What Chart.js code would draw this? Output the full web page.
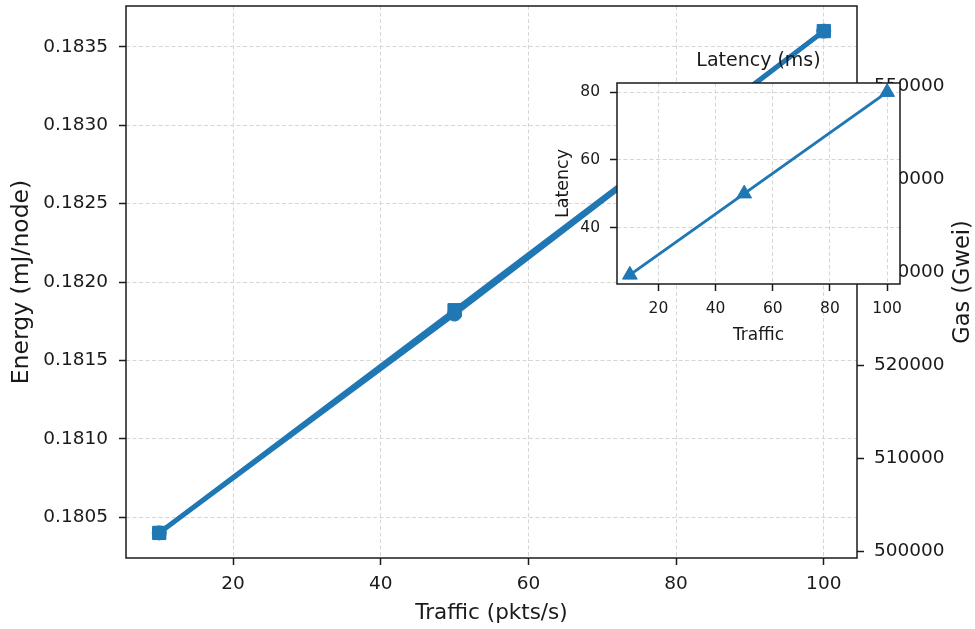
<!DOCTYPE html>
<html>
<head>
<meta charset="utf-8">
<script src="https://cdn.jsdelivr.net/npm/chart.js@4.4.1/dist/chart.umd.min.js"></script>
<style>
  html, body { margin: 0; padding: 0; background: #fff; overflow: hidden; }
  #wrap { position: relative; width: 975px; height: 629px; }
  #mainChart { position: absolute; left: 0; top: 0; }
  #insetChart { position: absolute; left: 540px; top: 40px; }
</style>
</head>
<body>
<div id="wrap">
  <canvas id="mainChart" width="975" height="629"></canvas>
  <canvas id="insetChart" width="380" height="310"></canvas>
</div>
<script>
// data
const traffic = [10, 50, 100];
const energy = [0.1804, 0.18182, 0.1836];
const gas = [502000, 525500, 555900];
const latency = [26, 50, 80];

// tick labels
const trafficTicks = [20, 40, 60, 80, 100];
const energyTicks = [0.1805, 0.1810, 0.1815, 0.1820, 0.1825, 0.1830, 0.1835];
const gasTicks = [500000, 510000, 520000, 530000, 540000, 550000];
const latencyTicks = [40, 60, 80];

const blue = '#1f77b4';
const ink = '#1a1a1a';
const gridColor = '#d6d6d6';
const family = '"DejaVu Sans", sans-serif';

// matplotlib style 5% margins
function padded(arr) {
    const lo = Math.min(...arr), hi = Math.max(...arr), m = (hi - lo) * 0.05;
    return { min: lo - m, max: hi + m };
}

function fixedTicks(list) {
    return function (scale) {
        scale.ticks = list.map(v => ({ value: v }));
    };
}

function fixedSize(size) {
    return function (scale) {
        if (scale.isHorizontal()) scale.height = size;
        else scale.width = size;
        scale.paddingLeft = scale.paddingRight = scale.paddingTop = scale.paddingBottom = 0;
    };
}

function points(xs, ys) {
    return xs.map((x, i) => ({ x: x, y: ys[i] }));
}

// axes frame on all four sides
const frame = {
    id: 'frame',
    afterDatasetsDraw(chart) {
        const a = chart.chartArea, ctx = chart.ctx;
        ctx.save();
        ctx.strokeStyle = ink;
        ctx.lineWidth = 1.5;
        ctx.strokeRect(a.left, a.top, a.right - a.left, a.bottom - a.top);
        ctx.restore();
    }
};

// white face behind the inset
const face = {
    id: 'face',
    beforeDraw(chart) {
        const a = chart.chartArea, ctx = chart.ctx;
        ctx.save();
        ctx.fillStyle = '#ffffff';
        ctx.fillRect(a.left, a.top, a.right - a.left, a.bottom - a.top);
        ctx.restore();
    }
};

// right axis label reads bottom to top like matplotlib
const gasTitle = {
    id: 'gasTitle',
    afterDraw(chart) {
        const s = chart.scales.yG, ctx = chart.ctx, a = chart.chartArea;
        ctx.save();
        ctx.translate(s.right - 11.5, (a.top + a.bottom) / 2);
        ctx.rotate(-Math.PI / 2);
        ctx.font = '22.5px ' + family;
        ctx.fillStyle = ink;
        ctx.textAlign = 'center';
        ctx.textBaseline = 'middle';
        ctx.fillText('Gas (Gwei)', 0, 0);
        ctx.restore();
    }
};

function gridOpts(onArea, tickLen) {
    return {
        display: true,
        drawOnChartArea: onArea,
        color: gridColor,
        lineWidth: 1,
        tickLength: tickLen,
        tickWidth: 1.5,
        tickColor: ink,
        tickBorderDash: []
    };
}

const tickFont = { family: family, size: 18.5 };

new Chart(document.getElementById('mainChart'), {
    type: 'line',
    data: {
        datasets: [{
            label: 'Gas',
            data: points(traffic, gas),
            yAxisID: 'yG',
            borderColor: blue,
            backgroundColor: blue,
            borderWidth: 4.5,
            pointStyle: 'circle',
            pointRadius: 7,
            pointBorderWidth: 1
        }, {
            label: 'Energy',
            data: points(traffic, energy),
            yAxisID: 'yE',
            borderColor: blue,
            backgroundColor: blue,
            borderWidth: 4.5,
            pointStyle: 'rect',
            pointRadius: 9.4,
            pointBorderWidth: 1
        }]
    },
    options: {
        responsive: false,
        animation: false,
        layout: { autoPadding: false, padding: { top: 6, left: 0, right: 0, bottom: 0 } },
        plugins: { legend: { display: false }, tooltip: { enabled: false } },
        scales: {
            x: {
                type: 'linear',
                position: 'bottom',
                bounds: 'data',
                ...padded(traffic),
                afterBuildTicks: fixedTicks(trafficTicks),
                afterFit: fixedSize(71),
                grid: gridOpts(true, 7),
                border: { display: false, dash: [4, 2.5] },
                ticks: { autoSkip: false, maxRotation: 0, padding: 8, color: ink, font: tickFont,
                         callback: v => String(v) },
                title: { display: true, text: 'Traffic (pkts/s)', color: ink,
                         font: { family: family, size: 21.5 }, padding: { top: 0, bottom: 2.4 } }
            },
            yE: {
                type: 'linear',
                position: 'left',
                bounds: 'data',
                ...padded(energy),
                afterBuildTicks: fixedTicks(energyTicks),
                afterFit: fixedSize(126),
                grid: gridOpts(true, 7),
                border: { display: false, dash: [4, 2.5] },
                ticks: { autoSkip: false, padding: 11, color: ink, font: tickFont,
                         callback: v => v.toFixed(4) },
                title: { display: true, text: 'Energy (mJ/node)', color: ink,
                         font: { family: family, size: 23.5 }, padding: { top: 8, bottom: 0 } }
            },
            yG: {
                type: 'linear',
                position: 'right',
                bounds: 'data',
                ...padded(gas),
                afterBuildTicks: fixedTicks(gasTicks),
                afterFit: fixedSize(118),
                grid: gridOpts(false, 7),
                border: { display: false },
                ticks: { autoSkip: false, padding: 10, color: ink, font: tickFont,
                         callback: v => String(v) }
            }
        }
    },
    plugins: [frame, gasTitle]
});

const insetTick = { family: family, size: 15.5 };

new Chart(document.getElementById('insetChart'), {
    type: 'line',
    data: {
        datasets: [{
            label: 'Latency',
            data: points(traffic, latency),
            borderColor: blue,
            backgroundColor: blue,
            borderWidth: 3,
            pointStyle: 'triangle',
            pointRadius: 8.5,
            pointBorderWidth: 1
        }]
    },
    options: {
        responsive: false,
        animation: false,
        layout: { autoPadding: false, padding: { top: 0, left: 0, right: 20, bottom: 0 } },
        plugins: {
            legend: { display: false },
            tooltip: { enabled: false },
            title: { display: true, text: 'Latency (ms)', color: ink, fullSize: false,
                     font: { family: family, size: 19, weight: 'normal' },
                     padding: { top: 10.1, bottom: 10.1 } }
        },
        scales: {
            x: {
                type: 'linear',
                position: 'bottom',
                bounds: 'data',
                ...padded(traffic),
                afterBuildTicks: fixedTicks(trafficTicks),
                afterFit: fixedSize(66),
                grid: gridOpts(true, 7),
                border: { display: false, dash: [4, 2.5] },
                ticks: { autoSkip: false, maxRotation: 0, padding: 9, color: ink, font: insetTick,
                         callback: v => String(v) },
                title: { display: true, text: 'Traffic', color: ink,
                         font: { family: family, size: 17 }, padding: { top: 0, bottom: 4.5 } }
            },
            y: {
                type: 'linear',
                position: 'left',
                bounds: 'data',
                ...padded(latency),
                afterBuildTicks: fixedTicks(latencyTicks),
                afterFit: fixedSize(77),
                grid: gridOpts(true, 7),
                border: { display: false, dash: [4, 2.5] },
                ticks: { autoSkip: false, padding: 10, color: ink, font: insetTick,
                         callback: v => String(v) },
                title: { display: true, text: 'Latency', color: ink,
                         font: { family: family, size: 17.5 }, padding: { top: 12.5, bottom: 0 } }
            }
        }
    },
    plugins: [face, frame]
});
</script>
</body>
</html>
